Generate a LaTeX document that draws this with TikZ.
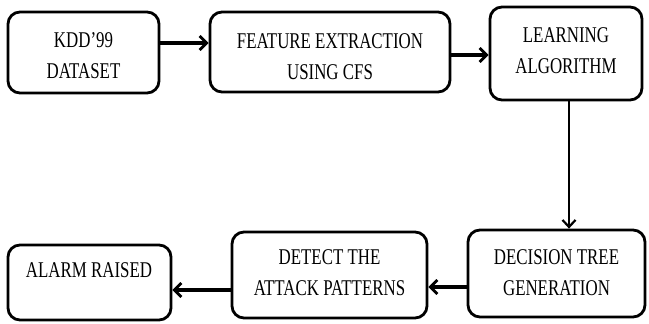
\documentclass[tikz,border=0pt]{standalone}
\usepackage{fontspec}
\setmainfont{Liberation Serif}[FakeStretch=0.75]
\usetikzlibrary{arrows.meta}
\begin{document}
\begin{tikzpicture}[x=1pt,y=1pt,
  box/.style={draw=black, line width=2.8pt, rounded corners=12pt, fill=white, inner sep=0pt},
  lbl/.style={align=center, inner sep=0pt, font=\fontsize{22.5}{31}\selectfont},
  arr/.style={line width=3.2pt, -{Straight Barb[length=7pt,width=14pt,line width=2.8pt]}},
  varr/.style={line width=2.2pt, -{Straight Barb[length=7pt,width=13pt,line width=2.2pt]}}]
\useasboundingbox (0,0) rectangle (649,324);
% boxes (pixel coords, y from top)
\node[box, minimum width=151pt, minimum height=81pt] (b1) at (83.5,{324-52.5}) {};
\node[box, minimum width=240pt, minimum height=80pt] (b2) at (330,{324-52}) {};
\node[box, minimum width=152pt, minimum height=93pt] (b3) at (566,{324-53.5}) {};
\node[box, minimum width=177pt, minimum height=87pt] (dt) at (556.5,{324-273.5}) {};
\node[box, minimum width=195pt, minimum height=86pt] (det) at (329.5,{324-275}) {};
\node[box, minimum width=163pt, minimum height=75pt] (al) at (89.5,{324-282.5}) {};
% labels
\node[lbl] (t1) at (83.5,{324-56}) {KDD’99\\DATASET};
\node[lbl] (t2) at (330,{324-57}) {FEATURE EXTRACTION\\USING CFS};
\node[lbl] (t3) at (566,{324-51}) {LEARNING\\ALGORITHM};
\node[lbl] (t4) at (556.5,{324-273}) {DECISION TREE\\GENERATION};
\node[lbl] (t5) at (329.5,{324-273}) {DETECT THE\\ATTACK PATTERNS};
\node[lbl] (t6) at (89,{324-270}) {ALARM RAISED};
% connectors
\draw[arr] ([yshift=9.5pt]b1.east) -- ([yshift=9pt]b2.west);
\draw[arr] ([yshift=-3pt]b2.east) -- ([yshift=-1.5pt]b3.west);
\draw[varr] ([xshift=3pt]b3.south) -- ([xshift=12.5pt]dt.north);
\draw[arr] ([yshift=-13.5pt]dt.west) -- ([yshift=-12pt]det.east);
\draw[arr] ([yshift=-15pt]det.west) -- ([yshift=-7.5pt]al.east);
\end{tikzpicture}
\end{document}
